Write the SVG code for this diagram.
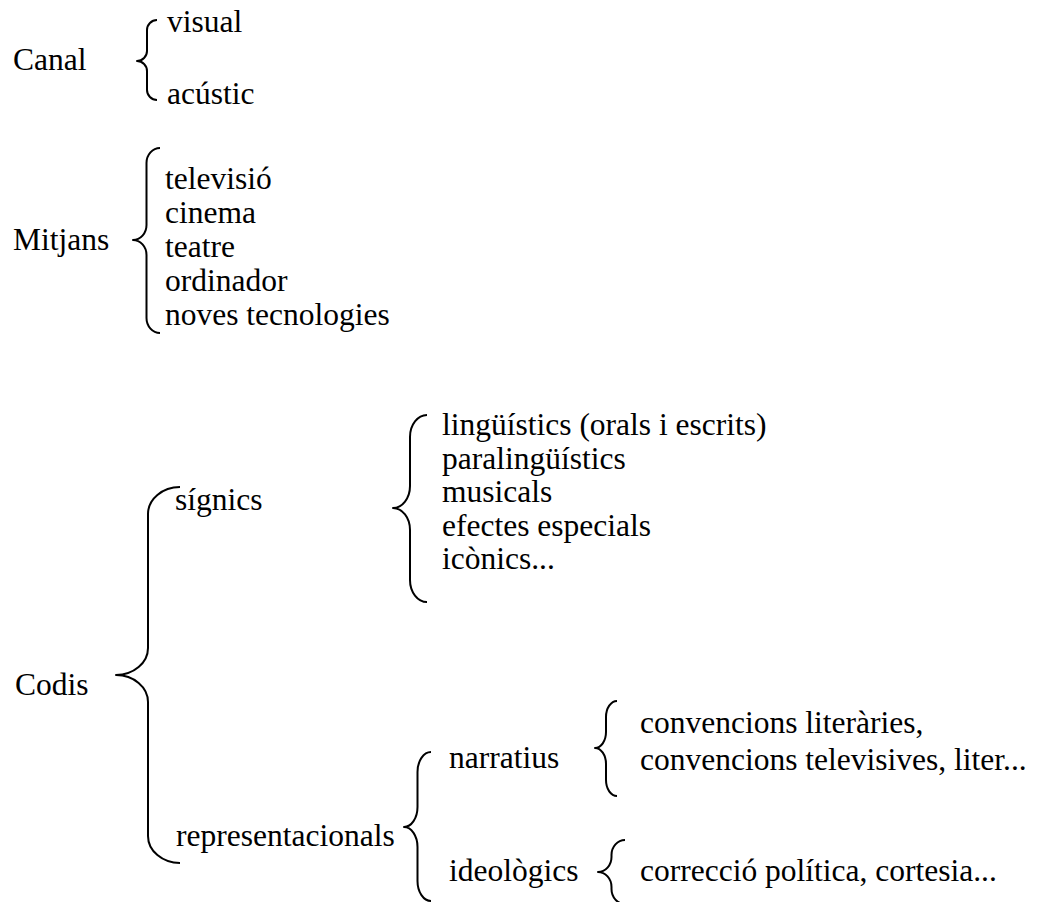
<svg xmlns="http://www.w3.org/2000/svg" width="1040" height="902" viewBox="0 0 1040 902">
  <style>
    text { font-family: "Liberation Serif", "Times New Roman", serif; font-size: 31.5px; fill: #000; }
    .brace { fill: none; stroke: #000; stroke-width: 2; stroke-linejoin: round; }
  </style>
  <rect width="1040" height="902" fill="#fff"/>

  <!-- curly braces: ends at the right, cusp pointing left -->
  <g id="connectors">
    <path class="brace" d="M157,20 A10,10 0 0 0 147,30 L147,51 A10,10 0 0 1 137,61 A10,10 0 0 1 147,71 L147,90 A10,10 0 0 0 157,100"/>
    <path class="brace" d="M160,148 A13.5,15 0 0 0 146.5,163 L146.5,225 A13.5,15 0 0 1 133,240 A13.5,15 0 0 1 146.5,255 L146.5,318 A13.5,15 0 0 0 160,333"/>
    <path class="brace" d="M180,487 A32,27 0 0 0 148,514 L148,648 A32,27 0 0 1 116,675 A32,27 0 0 1 148,702 L148,836 A32,27 0 0 0 180,863"/>
    <path class="brace" d="M427,415 A17,22 0 0 0 410,437 L410,486 A17,22 0 0 1 393,508 A17,22 0 0 1 410,530 L410,580 A17,22 0 0 0 427,602"/>
    <path class="brace" d="M431,752 A13.5,20 0 0 0 417.5,772 L417.5,807 A13.5,20 0 0 1 404,827 A13.5,20 0 0 1 417.5,847 L417.5,881 A13.5,20 0 0 0 431,901"/>
    <path class="brace" d="M617,701 A11,16 0 0 0 606,717 L606,732 A11,16 0 0 1 595,748 A11,16 0 0 1 606,764 L606,780 A11,16 0 0 0 617,796"/>
    <path class="brace" d="M625,840 A13.5,15 0 0 0 611.5,855 L611.5,857 A13.5,15 0 0 1 598,872 A13.5,15 0 0 1 611.5,887 L611.5,889 A13.5,15 0 0 0 625,904"/>
  </g>

  <g id="canal">
    <text x="13" y="70">Canal</text>
  </g>
  <g id="canal-items">
    <text x="167" y="32">visual</text>
    <text x="167" y="104">acústic</text>
  </g>

  <g id="mitjans">
    <text x="13" y="250">Mitjans</text>
  </g>
  <g id="mitjans-items">
    <text x="165" y="189">televisió</text>
    <text x="165" y="223">cinema</text>
    <text x="165" y="257">teatre</text>
    <text x="165" y="291">ordinador</text>
    <text x="165" y="325">noves tecnologies</text>
  </g>

  <g id="codis">
    <text x="15" y="695">Codis</text>
  </g>
  <g id="signics">
    <text x="175" y="510">sígnics</text>
  </g>
  <g id="signics-items">
    <text x="442" y="435">lingüístics (orals i escrits)</text>
    <text x="442" y="468.5">paralingüístics</text>
    <text x="442" y="502">musicals</text>
    <text x="442" y="535.5">efectes especials</text>
    <text x="442" y="569">icònics...</text>
  </g>
  <g id="representacionals">
    <text x="176" y="846">representacionals</text>
  </g>
  <g id="narratius">
    <text x="449" y="768">narratius</text>
  </g>
  <g id="narratius-items">
    <text x="640" y="733">convencions literàries,</text>
    <text x="640" y="770">convencions televisives, liter...</text>
  </g>
  <g id="ideologics">
    <text x="449" y="881">ideològics</text>
  </g>
  <g id="ideologics-items">
    <text x="640" y="881">correcció política, cortesia...</text>
  </g>
</svg>
